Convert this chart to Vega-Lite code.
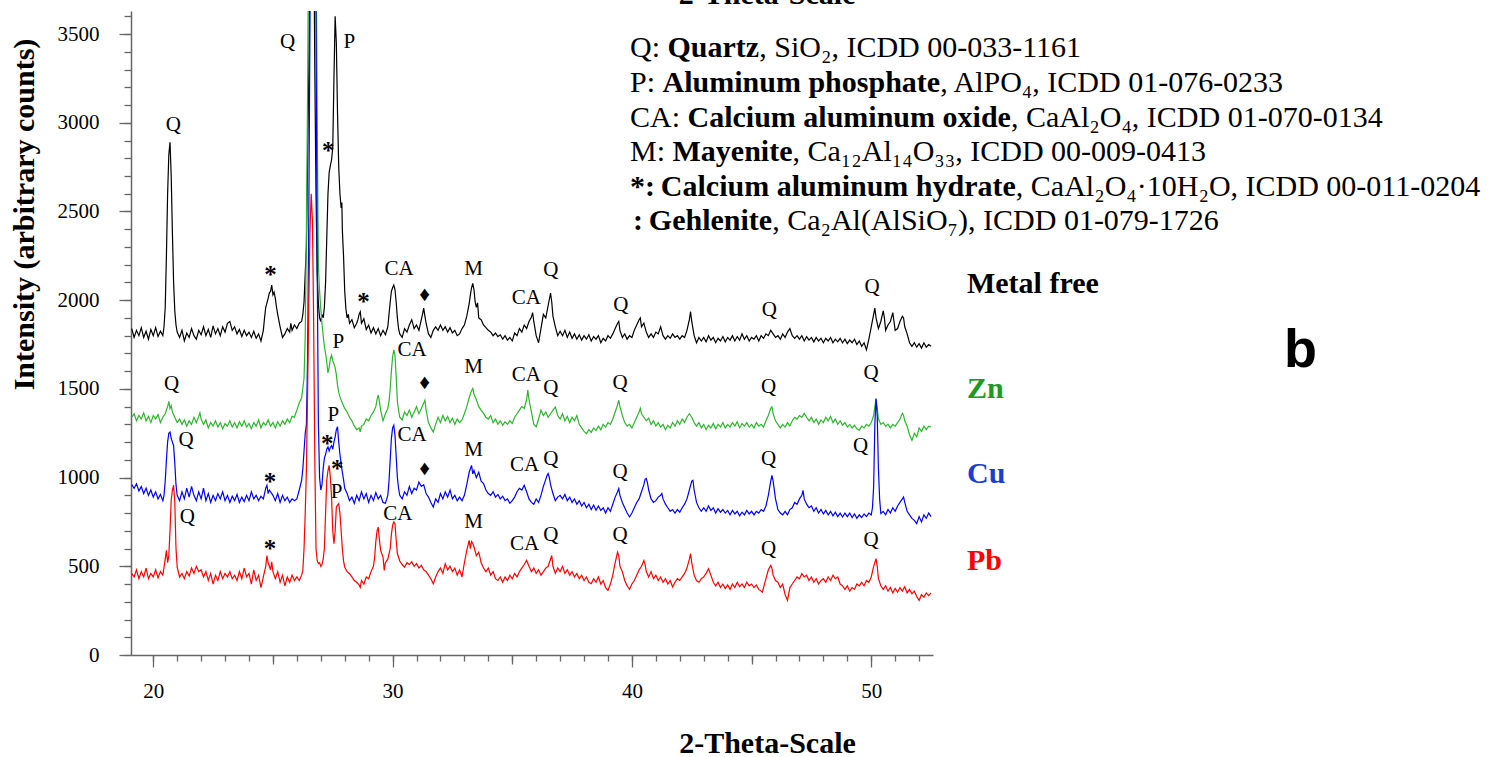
{
"$schema": "https://vega.github.io/schema/vega-lite/v6.json",
"width": 802, "height": 644,
"autosize": {"type": "none"},
"padding": {"left": 131, "top": 11, "right": 557, "bottom": 102},
"background": "white",
"config": {"view": {"stroke": null}, "axis": {"domainColor": "#666666", "tickColor": "#666666", "labelFont": "Liberation Serif", "titleFont": "Liberation Serif", "labelColor": "#000000", "titleColor": "#000000", "grid": false, "domainWidth": 1.5, "tickWidth": 1.3}},
"resolve": {"axis": {"x": "independent", "y": "independent"}},
"datasets": {
"mf": [{"x":19.1,"y":1840},{"x":19.2,"y":1790},{"x":19.3,"y":1830},{"x":19.4,"y":1800},{"x":19.5,"y":1845},{"x":19.6,"y":1790},{"x":19.7,"y":1825},{"x":19.8,"y":1780},{"x":19.9,"y":1835},{"x":20.0,"y":1800},{"x":20.1,"y":1845},{"x":20.2,"y":1795},{"x":20.3,"y":1825},{"x":20.4,"y":1800},{"x":20.45,"y":1850},{"x":20.5,"y":1960},{"x":20.55,"y":2250},{"x":20.6,"y":2600},{"x":20.65,"y":2820},{"x":20.7,"y":2890},{"x":20.75,"y":2700},{"x":20.8,"y":2380},{"x":20.85,"y":2100},{"x":20.9,"y":1940},{"x":20.95,"y":1860},{"x":21.0,"y":1820},{"x":21.1,"y":1790},{"x":21.2,"y":1830},{"x":21.3,"y":1770},{"x":21.4,"y":1815},{"x":21.5,"y":1790},{"x":21.6,"y":1840},{"x":21.7,"y":1800},{"x":21.8,"y":1780},{"x":21.9,"y":1830},{"x":22.0,"y":1805},{"x":22.1,"y":1850},{"x":22.2,"y":1800},{"x":22.3,"y":1835},{"x":22.4,"y":1790},{"x":22.5,"y":1855},{"x":22.6,"y":1810},{"x":22.7,"y":1840},{"x":22.8,"y":1800},{"x":22.9,"y":1850},{"x":23.0,"y":1820},{"x":23.1,"y":1870},{"x":23.2,"y":1880},{"x":23.3,"y":1830},{"x":23.4,"y":1850},{"x":23.5,"y":1810},{"x":23.6,"y":1835},{"x":23.7,"y":1795},{"x":23.8,"y":1830},{"x":23.9,"y":1800},{"x":24.0,"y":1820},{"x":24.1,"y":1790},{"x":24.2,"y":1825},{"x":24.3,"y":1785},{"x":24.4,"y":1810},{"x":24.5,"y":1770},{"x":24.6,"y":1830},{"x":24.65,"y":1900},{"x":24.7,"y":1960},{"x":24.8,"y":2010},{"x":24.85,"y":2040},{"x":24.9,"y":2050},{"x":24.95,"y":2085},{"x":25.0,"y":2030},{"x":25.05,"y":2045},{"x":25.1,"y":2010},{"x":25.15,"y":1960},{"x":25.2,"y":1920},{"x":25.3,"y":1850},{"x":25.4,"y":1790},{"x":25.5,"y":1810},{"x":25.6,"y":1840},{"x":25.7,"y":1820},{"x":25.75,"y":1870},{"x":25.8,"y":1830},{"x":25.9,"y":1860},{"x":26.0,"y":1840},{"x":26.1,"y":1870},{"x":26.2,"y":1880},{"x":26.25,"y":1920},{"x":26.3,"y":1990},{"x":26.35,"y":2150},{"x":26.4,"y":2300},{"x":26.45,"y":2800},{"x":26.5,"y":3300},{"x":26.55,"y":4000},{"x":26.6,"y":4500},{"x":26.65,"y":4600},{"x":26.7,"y":4200},{"x":26.75,"y":3300},{"x":26.8,"y":2600},{"x":26.85,"y":2150},{"x":26.9,"y":1980},{"x":26.95,"y":1900},{"x":27.0,"y":1880},{"x":27.05,"y":1920},{"x":27.1,"y":1900},{"x":27.15,"y":1960},{"x":27.2,"y":2100},{"x":27.25,"y":2350},{"x":27.3,"y":2600},{"x":27.35,"y":2720},{"x":27.4,"y":2760},{"x":27.45,"y":2790},{"x":27.5,"y":2860},{"x":27.55,"y":3250},{"x":27.6,"y":3600},{"x":27.65,"y":3450},{"x":27.7,"y":3050},{"x":27.75,"y":2750},{"x":27.8,"y":2600},{"x":27.85,"y":2520},{"x":27.88,"y":2550},{"x":27.9,"y":2400},{"x":27.95,"y":2250},{"x":28.0,"y":2050},{"x":28.05,"y":1950},{"x":28.1,"y":1900},{"x":28.15,"y":1920},{"x":28.2,"y":1870},{"x":28.3,"y":1890},{"x":28.4,"y":1845},{"x":28.5,"y":1870},{"x":28.55,"y":1890},{"x":28.6,"y":1920},{"x":28.65,"y":1935},{"x":28.7,"y":1870},{"x":28.8,"y":1895},{"x":28.9,"y":1835},{"x":29.0,"y":1860},{"x":29.1,"y":1815},{"x":29.2,"y":1845},{"x":29.3,"y":1810},{"x":29.4,"y":1840},{"x":29.5,"y":1800},{"x":29.6,"y":1830},{"x":29.7,"y":1805},{"x":29.8,"y":1850},{"x":29.85,"y":1920},{"x":29.9,"y":1990},{"x":29.95,"y":2050},{"x":30.0,"y":2070},{"x":30.05,"y":2085},{"x":30.1,"y":2060},{"x":30.15,"y":1990},{"x":30.2,"y":1900},{"x":30.25,"y":1840},{"x":30.3,"y":1810},{"x":30.4,"y":1790},{"x":30.5,"y":1840},{"x":30.6,"y":1820},{"x":30.7,"y":1860},{"x":30.8,"y":1890},{"x":30.9,"y":1840},{"x":31.0,"y":1860},{"x":31.1,"y":1830},{"x":31.2,"y":1890},{"x":31.25,"y":1920},{"x":31.3,"y":1955},{"x":31.35,"y":1910},{"x":31.4,"y":1870},{"x":31.5,"y":1810},{"x":31.6,"y":1790},{"x":31.7,"y":1830},{"x":31.8,"y":1850},{"x":31.9,"y":1830},{"x":32.0,"y":1860},{"x":32.1,"y":1830},{"x":32.2,"y":1850},{"x":32.3,"y":1820},{"x":32.4,"y":1845},{"x":32.5,"y":1815},{"x":32.6,"y":1830},{"x":32.7,"y":1800},{"x":32.8,"y":1810},{"x":32.9,"y":1840},{"x":33.0,"y":1860},{"x":33.1,"y":1910},{"x":33.2,"y":1980},{"x":33.25,"y":2030},{"x":33.3,"y":2070},{"x":33.35,"y":2095},{"x":33.4,"y":2060},{"x":33.45,"y":1990},{"x":33.5,"y":1960},{"x":33.55,"y":1985},{"x":33.6,"y":1900},{"x":33.7,"y":1890},{"x":33.8,"y":1860},{"x":33.9,"y":1845},{"x":34.0,"y":1830},{"x":34.1,"y":1820},{"x":34.2,"y":1800},{"x":34.3,"y":1815},{"x":34.4,"y":1795},{"x":34.5,"y":1805},{"x":34.6,"y":1780},{"x":34.7,"y":1800},{"x":34.8,"y":1775},{"x":34.9,"y":1790},{"x":35.0,"y":1770},{"x":35.1,"y":1815},{"x":35.2,"y":1800},{"x":35.3,"y":1840},{"x":35.4,"y":1820},{"x":35.5,"y":1860},{"x":35.6,"y":1840},{"x":35.7,"y":1880},{"x":35.8,"y":1905},{"x":35.85,"y":1930},{"x":35.9,"y":1880},{"x":36.0,"y":1800},{"x":36.1,"y":1760},{"x":36.2,"y":1840},{"x":36.3,"y":1920},{"x":36.4,"y":1900},{"x":36.5,"y":1970},{"x":36.6,"y":2040},{"x":36.65,"y":1990},{"x":36.7,"y":1910},{"x":36.8,"y":1850},{"x":36.9,"y":1800},{"x":37.0,"y":1825},{"x":37.1,"y":1800},{"x":37.2,"y":1830},{"x":37.3,"y":1790},{"x":37.4,"y":1820},{"x":37.5,"y":1785},{"x":37.6,"y":1810},{"x":37.7,"y":1780},{"x":37.8,"y":1805},{"x":37.9,"y":1775},{"x":38.0,"y":1800},{"x":38.1,"y":1780},{"x":38.2,"y":1805},{"x":38.3,"y":1770},{"x":38.4,"y":1795},{"x":38.5,"y":1780},{"x":38.6,"y":1800},{"x":38.7,"y":1760},{"x":38.8,"y":1785},{"x":38.9,"y":1770},{"x":39.0,"y":1800},{"x":39.1,"y":1785},{"x":39.2,"y":1810},{"x":39.3,"y":1840},{"x":39.4,"y":1870},{"x":39.45,"y":1880},{"x":39.5,"y":1830},{"x":39.6,"y":1790},{"x":39.7,"y":1810},{"x":39.8,"y":1780},{"x":39.9,"y":1800},{"x":40.0,"y":1790},{"x":40.1,"y":1830},{"x":40.2,"y":1860},{"x":40.3,"y":1890},{"x":40.35,"y":1900},{"x":40.4,"y":1850},{"x":40.5,"y":1870},{"x":40.6,"y":1820},{"x":40.7,"y":1790},{"x":40.8,"y":1810},{"x":40.9,"y":1790},{"x":41.0,"y":1820},{"x":41.1,"y":1810},{"x":41.2,"y":1850},{"x":41.3,"y":1800},{"x":41.4,"y":1780},{"x":41.5,"y":1800},{"x":41.6,"y":1785},{"x":41.7,"y":1810},{"x":41.8,"y":1790},{"x":41.9,"y":1800},{"x":42.0,"y":1780},{"x":42.1,"y":1800},{"x":42.2,"y":1790},{"x":42.3,"y":1830},{"x":42.4,"y":1890},{"x":42.45,"y":1935},{"x":42.5,"y":1880},{"x":42.6,"y":1800},{"x":42.7,"y":1760},{"x":42.8,"y":1790},{"x":42.9,"y":1770},{"x":43.0,"y":1790},{"x":43.1,"y":1765},{"x":43.2,"y":1800},{"x":43.3,"y":1775},{"x":43.4,"y":1790},{"x":43.5,"y":1760},{"x":43.6,"y":1785},{"x":43.7,"y":1770},{"x":43.8,"y":1795},{"x":43.9,"y":1765},{"x":44.0,"y":1790},{"x":44.1,"y":1775},{"x":44.2,"y":1800},{"x":44.3,"y":1770},{"x":44.4,"y":1795},{"x":44.5,"y":1775},{"x":44.6,"y":1810},{"x":44.7,"y":1780},{"x":44.8,"y":1800},{"x":44.9,"y":1770},{"x":45.0,"y":1790},{"x":45.1,"y":1780},{"x":45.2,"y":1800},{"x":45.3,"y":1770},{"x":45.4,"y":1800},{"x":45.5,"y":1785},{"x":45.6,"y":1810},{"x":45.7,"y":1800},{"x":45.8,"y":1830},{"x":45.9,"y":1810},{"x":46.0,"y":1790},{"x":46.1,"y":1800},{"x":46.2,"y":1780},{"x":46.3,"y":1810},{"x":46.4,"y":1790},{"x":46.5,"y":1820},{"x":46.6,"y":1840},{"x":46.7,"y":1800},{"x":46.8,"y":1785},{"x":46.9,"y":1800},{"x":47.0,"y":1780},{"x":47.1,"y":1800},{"x":47.2,"y":1770},{"x":47.3,"y":1795},{"x":47.4,"y":1775},{"x":47.5,"y":1790},{"x":47.6,"y":1765},{"x":47.7,"y":1790},{"x":47.8,"y":1770},{"x":47.9,"y":1785},{"x":48.0,"y":1760},{"x":48.1,"y":1785},{"x":48.2,"y":1770},{"x":48.3,"y":1790},{"x":48.4,"y":1760},{"x":48.5,"y":1780},{"x":48.6,"y":1765},{"x":48.7,"y":1785},{"x":48.8,"y":1760},{"x":48.9,"y":1780},{"x":49.0,"y":1755},{"x":49.1,"y":1775},{"x":49.2,"y":1760},{"x":49.3,"y":1780},{"x":49.4,"y":1750},{"x":49.5,"y":1770},{"x":49.6,"y":1740},{"x":49.7,"y":1760},{"x":49.8,"y":1720},{"x":49.9,"y":1780},{"x":50.0,"y":1850},{"x":50.1,"y":1920},{"x":50.15,"y":1955},{"x":50.2,"y":1900},{"x":50.3,"y":1840},{"x":50.4,"y":1880},{"x":50.5,"y":1940},{"x":50.55,"y":1900},{"x":50.6,"y":1830},{"x":50.7,"y":1860},{"x":50.8,"y":1880},{"x":50.9,"y":1930},{"x":50.95,"y":1880},{"x":51.0,"y":1830},{"x":51.1,"y":1840},{"x":51.2,"y":1880},{"x":51.3,"y":1910},{"x":51.35,"y":1900},{"x":51.4,"y":1850},{"x":51.5,"y":1810},{"x":51.6,"y":1760},{"x":51.7,"y":1740},{"x":51.8,"y":1760},{"x":51.9,"y":1735},{"x":52.0,"y":1755},{"x":52.1,"y":1730},{"x":52.2,"y":1760},{"x":52.3,"y":1735},{"x":52.4,"y":1750},{"x":52.5,"y":1740}],
"zn": [{"x":19.1,"y":1340},{"x":19.2,"y":1360},{"x":19.3,"y":1320},{"x":19.4,"y":1350},{"x":19.5,"y":1330},{"x":19.6,"y":1365},{"x":19.7,"y":1320},{"x":19.8,"y":1345},{"x":19.9,"y":1310},{"x":20.0,"y":1350},{"x":20.1,"y":1330},{"x":20.2,"y":1355},{"x":20.3,"y":1310},{"x":20.4,"y":1340},{"x":20.5,"y":1360},{"x":20.6,"y":1400},{"x":20.65,"y":1430},{"x":20.7,"y":1390},{"x":20.75,"y":1405},{"x":20.8,"y":1370},{"x":20.9,"y":1340},{"x":21.0,"y":1310},{"x":21.1,"y":1330},{"x":21.2,"y":1300},{"x":21.3,"y":1325},{"x":21.4,"y":1290},{"x":21.5,"y":1320},{"x":21.6,"y":1300},{"x":21.7,"y":1340},{"x":21.8,"y":1310},{"x":21.9,"y":1345},{"x":21.95,"y":1365},{"x":22.0,"y":1330},{"x":22.1,"y":1300},{"x":22.2,"y":1325},{"x":22.3,"y":1280},{"x":22.4,"y":1310},{"x":22.5,"y":1290},{"x":22.6,"y":1320},{"x":22.7,"y":1285},{"x":22.8,"y":1310},{"x":22.9,"y":1275},{"x":23.0,"y":1305},{"x":23.1,"y":1290},{"x":23.2,"y":1320},{"x":23.3,"y":1285},{"x":23.4,"y":1310},{"x":23.5,"y":1280},{"x":23.6,"y":1315},{"x":23.7,"y":1290},{"x":23.8,"y":1320},{"x":23.9,"y":1285},{"x":24.0,"y":1305},{"x":24.1,"y":1275},{"x":24.2,"y":1310},{"x":24.3,"y":1290},{"x":24.4,"y":1325},{"x":24.5,"y":1280},{"x":24.6,"y":1310},{"x":24.7,"y":1295},{"x":24.8,"y":1325},{"x":24.9,"y":1290},{"x":25.0,"y":1310},{"x":25.1,"y":1280},{"x":25.2,"y":1315},{"x":25.3,"y":1290},{"x":25.4,"y":1320},{"x":25.5,"y":1300},{"x":25.6,"y":1330},{"x":25.7,"y":1310},{"x":25.8,"y":1345},{"x":25.9,"y":1340},{"x":26.0,"y":1380},{"x":26.1,"y":1420},{"x":26.2,"y":1450},{"x":26.3,"y":1560},{"x":26.35,"y":1800},{"x":26.4,"y":2400},{"x":26.45,"y":3200},{"x":26.5,"y":4200},{"x":26.55,"y":5000},{"x":26.6,"y":5000},{"x":26.65,"y":5000},{"x":26.7,"y":5000},{"x":26.75,"y":4600},{"x":26.8,"y":4000},{"x":26.85,"y":3000},{"x":26.9,"y":2190},{"x":26.95,"y":2050},{"x":27.0,"y":1950},{"x":27.05,"y":1870},{"x":27.1,"y":1800},{"x":27.15,"y":1740},{"x":27.2,"y":1700},{"x":27.25,"y":1650},{"x":27.3,"y":1590},{"x":27.35,"y":1620},{"x":27.4,"y":1670},{"x":27.45,"y":1690},{"x":27.5,"y":1660},{"x":27.55,"y":1640},{"x":27.6,"y":1620},{"x":27.65,"y":1580},{"x":27.7,"y":1520},{"x":27.75,"y":1480},{"x":27.8,"y":1455},{"x":27.9,"y":1420},{"x":28.0,"y":1390},{"x":28.1,"y":1370},{"x":28.2,"y":1340},{"x":28.3,"y":1320},{"x":28.4,"y":1290},{"x":28.5,"y":1270},{"x":28.6,"y":1280},{"x":28.65,"y":1257},{"x":28.7,"y":1290},{"x":28.8,"y":1300},{"x":28.9,"y":1330},{"x":29.0,"y":1320},{"x":29.1,"y":1350},{"x":29.2,"y":1370},{"x":29.3,"y":1400},{"x":29.35,"y":1440},{"x":29.4,"y":1465},{"x":29.45,"y":1430},{"x":29.5,"y":1380},{"x":29.6,"y":1320},{"x":29.7,"y":1360},{"x":29.8,"y":1390},{"x":29.85,"y":1430},{"x":29.9,"y":1500},{"x":29.95,"y":1600},{"x":30.0,"y":1680},{"x":30.05,"y":1720},{"x":30.1,"y":1690},{"x":30.15,"y":1570},{"x":30.2,"y":1430},{"x":30.25,"y":1380},{"x":30.3,"y":1340},{"x":30.4,"y":1325},{"x":30.5,"y":1370},{"x":30.6,"y":1350},{"x":30.7,"y":1380},{"x":30.8,"y":1340},{"x":30.9,"y":1370},{"x":31.0,"y":1400},{"x":31.1,"y":1360},{"x":31.2,"y":1390},{"x":31.3,"y":1420},{"x":31.35,"y":1436},{"x":31.4,"y":1380},{"x":31.5,"y":1310},{"x":31.6,"y":1280},{"x":31.7,"y":1257},{"x":31.8,"y":1300},{"x":31.9,"y":1340},{"x":32.0,"y":1310},{"x":32.1,"y":1350},{"x":32.2,"y":1320},{"x":32.3,"y":1345},{"x":32.4,"y":1310},{"x":32.5,"y":1335},{"x":32.6,"y":1300},{"x":32.7,"y":1330},{"x":32.8,"y":1310},{"x":32.9,"y":1325},{"x":33.0,"y":1360},{"x":33.1,"y":1400},{"x":33.2,"y":1450},{"x":33.3,"y":1490},{"x":33.35,"y":1502},{"x":33.4,"y":1470},{"x":33.5,"y":1440},{"x":33.6,"y":1400},{"x":33.7,"y":1380},{"x":33.8,"y":1362},{"x":33.9,"y":1340},{"x":34.0,"y":1330},{"x":34.1,"y":1350},{"x":34.2,"y":1310},{"x":34.3,"y":1330},{"x":34.4,"y":1300},{"x":34.5,"y":1320},{"x":34.6,"y":1295},{"x":34.7,"y":1315},{"x":34.8,"y":1300},{"x":34.9,"y":1320},{"x":35.0,"y":1305},{"x":35.1,"y":1340},{"x":35.2,"y":1360},{"x":35.3,"y":1380},{"x":35.4,"y":1400},{"x":35.5,"y":1390},{"x":35.6,"y":1440},{"x":35.65,"y":1493},{"x":35.7,"y":1440},{"x":35.8,"y":1370},{"x":35.9,"y":1300},{"x":36.0,"y":1286},{"x":36.1,"y":1330},{"x":36.2,"y":1380},{"x":36.3,"y":1350},{"x":36.4,"y":1370},{"x":36.5,"y":1340},{"x":36.6,"y":1360},{"x":36.7,"y":1380},{"x":36.8,"y":1398},{"x":36.9,"y":1350},{"x":37.0,"y":1330},{"x":37.1,"y":1360},{"x":37.2,"y":1320},{"x":37.3,"y":1345},{"x":37.4,"y":1310},{"x":37.5,"y":1340},{"x":37.6,"y":1320},{"x":37.7,"y":1350},{"x":37.8,"y":1300},{"x":37.9,"y":1280},{"x":38.0,"y":1260},{"x":38.1,"y":1248},{"x":38.2,"y":1270},{"x":38.3,"y":1255},{"x":38.4,"y":1280},{"x":38.5,"y":1265},{"x":38.6,"y":1290},{"x":38.7,"y":1270},{"x":38.8,"y":1300},{"x":38.9,"y":1285},{"x":39.0,"y":1310},{"x":39.1,"y":1300},{"x":39.2,"y":1330},{"x":39.3,"y":1370},{"x":39.4,"y":1410},{"x":39.45,"y":1436},{"x":39.5,"y":1400},{"x":39.6,"y":1350},{"x":39.7,"y":1310},{"x":39.8,"y":1290},{"x":39.9,"y":1300},{"x":40.0,"y":1280},{"x":40.1,"y":1310},{"x":40.2,"y":1340},{"x":40.3,"y":1370},{"x":40.35,"y":1391},{"x":40.4,"y":1360},{"x":40.5,"y":1340},{"x":40.6,"y":1320},{"x":40.7,"y":1335},{"x":40.8,"y":1300},{"x":40.9,"y":1320},{"x":41.0,"y":1290},{"x":41.1,"y":1310},{"x":41.2,"y":1285},{"x":41.3,"y":1300},{"x":41.4,"y":1270},{"x":41.5,"y":1295},{"x":41.6,"y":1280},{"x":41.7,"y":1310},{"x":41.8,"y":1290},{"x":41.9,"y":1320},{"x":42.0,"y":1300},{"x":42.1,"y":1330},{"x":42.2,"y":1310},{"x":42.3,"y":1340},{"x":42.4,"y":1360},{"x":42.5,"y":1340},{"x":42.6,"y":1310},{"x":42.7,"y":1290},{"x":42.8,"y":1310},{"x":42.9,"y":1280},{"x":43.0,"y":1300},{"x":43.1,"y":1270},{"x":43.2,"y":1295},{"x":43.3,"y":1280},{"x":43.4,"y":1305},{"x":43.5,"y":1275},{"x":43.6,"y":1300},{"x":43.7,"y":1285},{"x":43.8,"y":1310},{"x":43.9,"y":1280},{"x":44.0,"y":1300},{"x":44.1,"y":1285},{"x":44.2,"y":1310},{"x":44.3,"y":1290},{"x":44.4,"y":1315},{"x":44.5,"y":1280},{"x":44.6,"y":1305},{"x":44.7,"y":1290},{"x":44.8,"y":1310},{"x":44.9,"y":1285},{"x":45.0,"y":1300},{"x":45.1,"y":1280},{"x":45.2,"y":1310},{"x":45.3,"y":1290},{"x":45.4,"y":1300},{"x":45.5,"y":1285},{"x":45.6,"y":1320},{"x":45.7,"y":1350},{"x":45.8,"y":1390},{"x":45.85,"y":1398},{"x":45.9,"y":1360},{"x":46.0,"y":1320},{"x":46.1,"y":1300},{"x":46.2,"y":1280},{"x":46.3,"y":1300},{"x":46.4,"y":1285},{"x":46.5,"y":1310},{"x":46.6,"y":1290},{"x":46.7,"y":1320},{"x":46.8,"y":1340},{"x":46.9,"y":1330},{"x":47.0,"y":1350},{"x":47.1,"y":1340},{"x":47.2,"y":1362},{"x":47.3,"y":1340},{"x":47.4,"y":1320},{"x":47.5,"y":1340},{"x":47.6,"y":1310},{"x":47.7,"y":1330},{"x":47.8,"y":1300},{"x":47.9,"y":1325},{"x":48.0,"y":1310},{"x":48.1,"y":1340},{"x":48.2,"y":1320},{"x":48.3,"y":1345},{"x":48.4,"y":1310},{"x":48.5,"y":1330},{"x":48.6,"y":1300},{"x":48.7,"y":1320},{"x":48.8,"y":1295},{"x":48.9,"y":1310},{"x":49.0,"y":1285},{"x":49.1,"y":1300},{"x":49.2,"y":1280},{"x":49.3,"y":1295},{"x":49.4,"y":1275},{"x":49.5,"y":1267},{"x":49.6,"y":1290},{"x":49.7,"y":1280},{"x":49.8,"y":1300},{"x":49.9,"y":1290},{"x":50.0,"y":1310},{"x":50.1,"y":1350},{"x":50.15,"y":1400},{"x":50.2,"y":1442},{"x":50.25,"y":1390},{"x":50.3,"y":1330},{"x":50.4,"y":1300},{"x":50.5,"y":1310},{"x":50.6,"y":1290},{"x":50.7,"y":1300},{"x":50.8,"y":1280},{"x":50.9,"y":1300},{"x":51.0,"y":1290},{"x":51.1,"y":1310},{"x":51.2,"y":1330},{"x":51.3,"y":1362},{"x":51.35,"y":1350},{"x":51.4,"y":1320},{"x":51.5,"y":1290},{"x":51.6,"y":1240},{"x":51.7,"y":1210},{"x":51.8,"y":1250},{"x":51.9,"y":1230},{"x":52.0,"y":1280},{"x":52.1,"y":1260},{"x":52.2,"y":1290},{"x":52.3,"y":1270},{"x":52.4,"y":1290},{"x":52.5,"y":1285}],
"cu": [{"x":19.1,"y":960},{"x":19.2,"y":940},{"x":19.3,"y":965},{"x":19.4,"y":925},{"x":19.5,"y":950},{"x":19.6,"y":910},{"x":19.7,"y":940},{"x":19.8,"y":900},{"x":19.9,"y":930},{"x":20.0,"y":890},{"x":20.1,"y":920},{"x":20.2,"y":880},{"x":20.3,"y":905},{"x":20.4,"y":870},{"x":20.45,"y":900},{"x":20.5,"y":980},{"x":20.55,"y":1100},{"x":20.6,"y":1200},{"x":20.65,"y":1250},{"x":20.7,"y":1257},{"x":20.75,"y":1220},{"x":20.8,"y":1200},{"x":20.85,"y":1180},{"x":20.9,"y":1080},{"x":20.95,"y":960},{"x":21.0,"y":900},{"x":21.1,"y":870},{"x":21.2,"y":920},{"x":21.3,"y":880},{"x":21.4,"y":940},{"x":21.5,"y":890},{"x":21.6,"y":950},{"x":21.7,"y":900},{"x":21.8,"y":870},{"x":21.9,"y":920},{"x":22.0,"y":880},{"x":22.1,"y":940},{"x":22.2,"y":870},{"x":22.3,"y":910},{"x":22.4,"y":860},{"x":22.5,"y":900},{"x":22.6,"y":870},{"x":22.7,"y":910},{"x":22.8,"y":880},{"x":22.9,"y":920},{"x":23.0,"y":870},{"x":23.1,"y":900},{"x":23.2,"y":860},{"x":23.3,"y":895},{"x":23.4,"y":870},{"x":23.5,"y":905},{"x":23.6,"y":860},{"x":23.7,"y":890},{"x":23.8,"y":865},{"x":23.9,"y":900},{"x":24.0,"y":870},{"x":24.1,"y":920},{"x":24.2,"y":880},{"x":24.3,"y":900},{"x":24.4,"y":870},{"x":24.5,"y":895},{"x":24.6,"y":880},{"x":24.7,"y":940},{"x":24.75,"y":957},{"x":24.8,"y":910},{"x":24.85,"y":930},{"x":24.9,"y":920},{"x":25.0,"y":900},{"x":25.1,"y":870},{"x":25.2,"y":910},{"x":25.3,"y":860},{"x":25.4,"y":900},{"x":25.5,"y":870},{"x":25.6,"y":890},{"x":25.7,"y":860},{"x":25.8,"y":880},{"x":25.9,"y":870},{"x":26.0,"y":880},{"x":26.1,"y":930},{"x":26.2,"y":985},{"x":26.25,"y":1050},{"x":26.3,"y":1150},{"x":26.35,"y":1250},{"x":26.4,"y":1300},{"x":26.45,"y":1700},{"x":26.5,"y":2500},{"x":26.55,"y":3600},{"x":26.6,"y":4500},{"x":26.65,"y":5000},{"x":26.7,"y":5000},{"x":26.75,"y":4600},{"x":26.8,"y":3600},{"x":26.85,"y":2200},{"x":26.9,"y":1300},{"x":26.95,"y":1000},{"x":27.0,"y":930},{"x":27.05,"y":960},{"x":27.1,"y":1050},{"x":27.15,"y":1110},{"x":27.2,"y":1130},{"x":27.25,"y":1160},{"x":27.3,"y":1173},{"x":27.35,"y":1150},{"x":27.4,"y":1170},{"x":27.45,"y":1180},{"x":27.5,"y":1160},{"x":27.55,"y":1200},{"x":27.6,"y":1230},{"x":27.65,"y":1270},{"x":27.7,"y":1286},{"x":27.75,"y":1200},{"x":27.8,"y":1130},{"x":27.85,"y":1080},{"x":27.9,"y":1030},{"x":27.95,"y":990},{"x":28.0,"y":940},{"x":28.1,"y":910},{"x":28.2,"y":870},{"x":28.3,"y":890},{"x":28.4,"y":855},{"x":28.5,"y":900},{"x":28.6,"y":870},{"x":28.7,"y":920},{"x":28.8,"y":880},{"x":28.9,"y":910},{"x":29.0,"y":860},{"x":29.1,"y":900},{"x":29.2,"y":870},{"x":29.3,"y":915},{"x":29.4,"y":880},{"x":29.5,"y":900},{"x":29.6,"y":860},{"x":29.7,"y":855},{"x":29.8,"y":900},{"x":29.85,"y":980},{"x":29.9,"y":1100},{"x":29.95,"y":1220},{"x":30.0,"y":1280},{"x":30.05,"y":1295},{"x":30.1,"y":1240},{"x":30.15,"y":1120},{"x":30.2,"y":1000},{"x":30.25,"y":940},{"x":30.3,"y":900},{"x":30.4,"y":880},{"x":30.5,"y":920},{"x":30.6,"y":900},{"x":30.7,"y":950},{"x":30.8,"y":910},{"x":30.9,"y":940},{"x":31.0,"y":930},{"x":31.1,"y":975},{"x":31.2,"y":950},{"x":31.3,"y":960},{"x":31.4,"y":910},{"x":31.5,"y":890},{"x":31.6,"y":860},{"x":31.7,"y":834},{"x":31.8,"y":880},{"x":31.9,"y":860},{"x":32.0,"y":910},{"x":32.1,"y":880},{"x":32.2,"y":920},{"x":32.3,"y":890},{"x":32.4,"y":930},{"x":32.5,"y":880},{"x":32.6,"y":900},{"x":32.7,"y":870},{"x":32.8,"y":890},{"x":32.9,"y":870},{"x":33.0,"y":900},{"x":33.1,"y":960},{"x":33.2,"y":1030},{"x":33.25,"y":1050},{"x":33.3,"y":1069},{"x":33.35,"y":1020},{"x":33.4,"y":1040},{"x":33.5,"y":1000},{"x":33.6,"y":1030},{"x":33.7,"y":980},{"x":33.8,"y":966},{"x":33.9,"y":930},{"x":34.0,"y":910},{"x":34.1,"y":900},{"x":34.2,"y":920},{"x":34.3,"y":890},{"x":34.4,"y":905},{"x":34.5,"y":880},{"x":34.6,"y":895},{"x":34.7,"y":870},{"x":34.8,"y":880},{"x":34.9,"y":855},{"x":35.0,"y":870},{"x":35.1,"y":890},{"x":35.2,"y":920},{"x":35.3,"y":940},{"x":35.4,"y":930},{"x":35.5,"y":957},{"x":35.6,"y":920},{"x":35.7,"y":880},{"x":35.8,"y":860},{"x":35.9,"y":850},{"x":36.0,"y":880},{"x":36.1,"y":860},{"x":36.2,"y":900},{"x":36.3,"y":950},{"x":36.4,"y":990},{"x":36.45,"y":1010},{"x":36.5,"y":1023},{"x":36.55,"y":1000},{"x":36.6,"y":960},{"x":36.7,"y":910},{"x":36.8,"y":870},{"x":36.9,"y":890},{"x":37.0,"y":900},{"x":37.1,"y":880},{"x":37.2,"y":905},{"x":37.3,"y":870},{"x":37.4,"y":890},{"x":37.5,"y":860},{"x":37.6,"y":880},{"x":37.7,"y":850},{"x":37.8,"y":870},{"x":37.9,"y":840},{"x":38.0,"y":860},{"x":38.1,"y":830},{"x":38.2,"y":850},{"x":38.3,"y":820},{"x":38.4,"y":845},{"x":38.5,"y":816},{"x":38.6,"y":840},{"x":38.7,"y":815},{"x":38.8,"y":830},{"x":38.9,"y":800},{"x":39.0,"y":830},{"x":39.1,"y":810},{"x":39.2,"y":850},{"x":39.3,"y":890},{"x":39.4,"y":920},{"x":39.45,"y":938},{"x":39.5,"y":900},{"x":39.6,"y":860},{"x":39.7,"y":830},{"x":39.8,"y":800},{"x":39.9,"y":778},{"x":40.0,"y":800},{"x":40.1,"y":830},{"x":40.2,"y":860},{"x":40.3,"y":880},{"x":40.4,"y":920},{"x":40.5,"y":960},{"x":40.55,"y":990},{"x":40.6,"y":995},{"x":40.65,"y":970},{"x":40.7,"y":930},{"x":40.8,"y":880},{"x":40.9,"y":860},{"x":41.0,"y":870},{"x":41.1,"y":890},{"x":41.2,"y":900},{"x":41.25,"y":910},{"x":41.3,"y":880},{"x":41.4,"y":850},{"x":41.5,"y":830},{"x":41.6,"y":810},{"x":41.7,"y":820},{"x":41.8,"y":800},{"x":41.9,"y":820},{"x":42.0,"y":805},{"x":42.1,"y":830},{"x":42.2,"y":850},{"x":42.3,"y":880},{"x":42.4,"y":930},{"x":42.5,"y":980},{"x":42.55,"y":985},{"x":42.6,"y":930},{"x":42.7,"y":860},{"x":42.8,"y":830},{"x":42.9,"y":810},{"x":43.0,"y":830},{"x":43.1,"y":810},{"x":43.2,"y":840},{"x":43.3,"y":815},{"x":43.4,"y":830},{"x":43.5,"y":800},{"x":43.6,"y":825},{"x":43.7,"y":805},{"x":43.8,"y":820},{"x":43.9,"y":800},{"x":44.0,"y":815},{"x":44.1,"y":790},{"x":44.2,"y":815},{"x":44.3,"y":795},{"x":44.4,"y":810},{"x":44.5,"y":785},{"x":44.6,"y":805},{"x":44.7,"y":790},{"x":44.8,"y":815},{"x":44.9,"y":795},{"x":45.0,"y":810},{"x":45.1,"y":790},{"x":45.2,"y":810},{"x":45.3,"y":800},{"x":45.4,"y":820},{"x":45.5,"y":810},{"x":45.6,"y":840},{"x":45.7,"y":900},{"x":45.8,"y":980},{"x":45.85,"y":1013},{"x":45.9,"y":980},{"x":46.0,"y":880},{"x":46.1,"y":820},{"x":46.2,"y":800},{"x":46.3,"y":790},{"x":46.4,"y":810},{"x":46.5,"y":790},{"x":46.6,"y":820},{"x":46.7,"y":830},{"x":46.8,"y":860},{"x":46.9,"y":850},{"x":47.0,"y":880},{"x":47.1,"y":900},{"x":47.15,"y":928},{"x":47.2,"y":880},{"x":47.3,"y":850},{"x":47.4,"y":830},{"x":47.5,"y":840},{"x":47.6,"y":810},{"x":47.7,"y":830},{"x":47.8,"y":800},{"x":47.9,"y":820},{"x":48.0,"y":795},{"x":48.1,"y":815},{"x":48.2,"y":790},{"x":48.3,"y":810},{"x":48.4,"y":785},{"x":48.5,"y":805},{"x":48.6,"y":780},{"x":48.7,"y":800},{"x":48.8,"y":778},{"x":48.9,"y":800},{"x":49.0,"y":780},{"x":49.1,"y":800},{"x":49.2,"y":775},{"x":49.3,"y":795},{"x":49.4,"y":770},{"x":49.5,"y":790},{"x":49.6,"y":775},{"x":49.7,"y":795},{"x":49.8,"y":780},{"x":49.9,"y":800},{"x":50.0,"y":790},{"x":50.05,"y":830},{"x":50.1,"y":950},{"x":50.15,"y":1300},{"x":50.2,"y":1446},{"x":50.25,"y":1350},{"x":50.3,"y":1050},{"x":50.35,"y":880},{"x":50.4,"y":798},{"x":50.5,"y":810},{"x":50.6,"y":790},{"x":50.7,"y":820},{"x":50.8,"y":800},{"x":50.9,"y":830},{"x":51.0,"y":810},{"x":51.1,"y":840},{"x":51.2,"y":860},{"x":51.3,"y":880},{"x":51.35,"y":890},{"x":51.4,"y":860},{"x":51.5,"y":810},{"x":51.6,"y":790},{"x":51.7,"y":770},{"x":51.8,"y":759},{"x":51.9,"y":740},{"x":52.0,"y":780},{"x":52.1,"y":750},{"x":52.2,"y":790},{"x":52.3,"y":770},{"x":52.4,"y":800},{"x":52.5,"y":780}],
"pb": [{"x":19.1,"y":460},{"x":19.2,"y":440},{"x":19.3,"y":480},{"x":19.4,"y":430},{"x":19.5,"y":470},{"x":19.6,"y":440},{"x":19.7,"y":490},{"x":19.8,"y":430},{"x":19.9,"y":460},{"x":20.0,"y":440},{"x":20.1,"y":480},{"x":20.2,"y":435},{"x":20.3,"y":470},{"x":20.4,"y":450},{"x":20.5,"y":540},{"x":20.55,"y":590},{"x":20.6,"y":520},{"x":20.65,"y":560},{"x":20.7,"y":700},{"x":20.75,"y":872},{"x":20.8,"y":930},{"x":20.85,"y":957},{"x":20.9,"y":860},{"x":20.95,"y":600},{"x":21.0,"y":495},{"x":21.1,"y":440},{"x":21.2,"y":460},{"x":21.3,"y":430},{"x":21.4,"y":470},{"x":21.5,"y":445},{"x":21.6,"y":490},{"x":21.7,"y":460},{"x":21.8,"y":500},{"x":21.9,"y":470},{"x":22.0,"y":480},{"x":22.1,"y":440},{"x":22.2,"y":470},{"x":22.3,"y":420},{"x":22.4,"y":460},{"x":22.5,"y":400},{"x":22.6,"y":450},{"x":22.7,"y":420},{"x":22.8,"y":470},{"x":22.9,"y":430},{"x":23.0,"y":460},{"x":23.1,"y":440},{"x":23.2,"y":470},{"x":23.3,"y":430},{"x":23.4,"y":450},{"x":23.5,"y":420},{"x":23.6,"y":470},{"x":23.7,"y":430},{"x":23.8,"y":490},{"x":23.9,"y":440},{"x":24.0,"y":460},{"x":24.1,"y":400},{"x":24.2,"y":480},{"x":24.3,"y":420},{"x":24.4,"y":450},{"x":24.5,"y":380},{"x":24.6,"y":440},{"x":24.7,"y":500},{"x":24.75,"y":561},{"x":24.8,"y":520},{"x":24.85,"y":500},{"x":24.9,"y":480},{"x":24.95,"y":525},{"x":25.0,"y":470},{"x":25.1,"y":430},{"x":25.2,"y":470},{"x":25.3,"y":410},{"x":25.4,"y":450},{"x":25.5,"y":390},{"x":25.6,"y":440},{"x":25.7,"y":410},{"x":25.8,"y":450},{"x":25.9,"y":420},{"x":26.0,"y":440},{"x":26.1,"y":420},{"x":26.2,"y":450},{"x":26.25,"y":477},{"x":26.3,"y":600},{"x":26.35,"y":800},{"x":26.4,"y":1050},{"x":26.45,"y":1500},{"x":26.5,"y":2000},{"x":26.55,"y":2400},{"x":26.6,"y":2600},{"x":26.65,"y":2450},{"x":26.7,"y":1900},{"x":26.75,"y":1100},{"x":26.8,"y":600},{"x":26.85,"y":533},{"x":26.9,"y":515},{"x":26.95,"y":520},{"x":27.0,"y":500},{"x":27.05,"y":510},{"x":27.1,"y":540},{"x":27.15,"y":600},{"x":27.2,"y":800},{"x":27.25,"y":985},{"x":27.3,"y":1040},{"x":27.35,"y":1069},{"x":27.4,"y":1000},{"x":27.45,"y":890},{"x":27.5,"y":700},{"x":27.55,"y":627},{"x":27.6,"y":700},{"x":27.65,"y":834},{"x":27.7,"y":845},{"x":27.75,"y":853},{"x":27.8,"y":800},{"x":27.85,"y":700},{"x":27.9,"y":600},{"x":27.95,"y":530},{"x":28.0,"y":495},{"x":28.1,"y":470},{"x":28.2,"y":458},{"x":28.3,"y":440},{"x":28.4,"y":420},{"x":28.5,"y":410},{"x":28.6,"y":395},{"x":28.65,"y":381},{"x":28.7,"y":420},{"x":28.8,"y":400},{"x":28.9,"y":440},{"x":29.0,"y":430},{"x":29.1,"y":470},{"x":29.2,"y":500},{"x":29.25,"y":550},{"x":29.3,"y":640},{"x":29.35,"y":700},{"x":29.4,"y":721},{"x":29.45,"y":650},{"x":29.5,"y":590},{"x":29.6,"y":552},{"x":29.65,"y":477},{"x":29.7,"y":520},{"x":29.8,"y":540},{"x":29.9,"y":600},{"x":29.95,"y":680},{"x":30.0,"y":730},{"x":30.05,"y":750},{"x":30.1,"y":740},{"x":30.15,"y":650},{"x":30.2,"y":572},{"x":30.3,"y":530},{"x":30.4,"y":510},{"x":30.5,"y":495},{"x":30.6,"y":520},{"x":30.7,"y":510},{"x":30.8,"y":525},{"x":30.9,"y":500},{"x":31.0,"y":515},{"x":31.1,"y":490},{"x":31.2,"y":505},{"x":31.3,"y":480},{"x":31.4,"y":470},{"x":31.5,"y":450},{"x":31.6,"y":430},{"x":31.7,"y":402},{"x":31.8,"y":440},{"x":31.9,"y":470},{"x":32.0,"y":490},{"x":32.1,"y":460},{"x":32.2,"y":515},{"x":32.3,"y":480},{"x":32.4,"y":500},{"x":32.5,"y":470},{"x":32.6,"y":490},{"x":32.7,"y":450},{"x":32.8,"y":480},{"x":32.9,"y":440},{"x":33.0,"y":520},{"x":33.1,"y":590},{"x":33.2,"y":646},{"x":33.25,"y":600},{"x":33.3,"y":640},{"x":33.35,"y":630},{"x":33.4,"y":610},{"x":33.5,"y":560},{"x":33.6,"y":580},{"x":33.65,"y":552},{"x":33.7,"y":520},{"x":33.8,"y":490},{"x":33.9,"y":470},{"x":34.0,"y":490},{"x":34.1,"y":450},{"x":34.2,"y":470},{"x":34.3,"y":430},{"x":34.4,"y":420},{"x":34.5,"y":440},{"x":34.6,"y":410},{"x":34.7,"y":440},{"x":34.8,"y":420},{"x":34.9,"y":450},{"x":35.0,"y":430},{"x":35.1,"y":460},{"x":35.2,"y":440},{"x":35.3,"y":470},{"x":35.4,"y":490},{"x":35.5,"y":510},{"x":35.6,"y":533},{"x":35.7,"y":500},{"x":35.8,"y":470},{"x":35.9,"y":490},{"x":36.0,"y":460},{"x":36.1,"y":480},{"x":36.2,"y":450},{"x":36.3,"y":470},{"x":36.4,"y":490},{"x":36.5,"y":500},{"x":36.6,"y":540},{"x":36.65,"y":561},{"x":36.7,"y":500},{"x":36.8,"y":460},{"x":36.9,"y":490},{"x":37.0,"y":470},{"x":37.1,"y":500},{"x":37.2,"y":460},{"x":37.3,"y":480},{"x":37.4,"y":450},{"x":37.5,"y":470},{"x":37.6,"y":440},{"x":37.7,"y":460},{"x":37.8,"y":430},{"x":37.9,"y":450},{"x":38.0,"y":420},{"x":38.1,"y":440},{"x":38.2,"y":410},{"x":38.3,"y":402},{"x":38.4,"y":430},{"x":38.5,"y":410},{"x":38.6,"y":440},{"x":38.7,"y":400},{"x":38.8,"y":420},{"x":38.9,"y":380},{"x":39.0,"y":364},{"x":39.1,"y":400},{"x":39.2,"y":450},{"x":39.3,"y":520},{"x":39.4,"y":580},{"x":39.45,"y":560},{"x":39.5,"y":500},{"x":39.6,"y":470},{"x":39.7,"y":420},{"x":39.8,"y":390},{"x":39.9,"y":370},{"x":40.0,"y":400},{"x":40.1,"y":420},{"x":40.2,"y":450},{"x":40.3,"y":480},{"x":40.4,"y":500},{"x":40.5,"y":533},{"x":40.55,"y":510},{"x":40.6,"y":470},{"x":40.7,"y":440},{"x":40.8,"y":470},{"x":40.9,"y":430},{"x":41.0,"y":450},{"x":41.1,"y":420},{"x":41.2,"y":440},{"x":41.3,"y":410},{"x":41.4,"y":430},{"x":41.5,"y":400},{"x":41.6,"y":420},{"x":41.7,"y":383},{"x":41.8,"y":410},{"x":41.9,"y":430},{"x":42.0,"y":420},{"x":42.1,"y":440},{"x":42.2,"y":460},{"x":42.3,"y":490},{"x":42.4,"y":540},{"x":42.45,"y":571},{"x":42.5,"y":520},{"x":42.6,"y":450},{"x":42.7,"y":420},{"x":42.8,"y":410},{"x":42.9,"y":430},{"x":43.0,"y":440},{"x":43.1,"y":460},{"x":43.2,"y":486},{"x":43.3,"y":450},{"x":43.4,"y":410},{"x":43.5,"y":390},{"x":43.6,"y":410},{"x":43.7,"y":380},{"x":43.8,"y":400},{"x":43.9,"y":375},{"x":44.0,"y":395},{"x":44.1,"y":370},{"x":44.2,"y":400},{"x":44.3,"y":380},{"x":44.4,"y":410},{"x":44.5,"y":385},{"x":44.6,"y":400},{"x":44.7,"y":380},{"x":44.8,"y":410},{"x":44.9,"y":390},{"x":45.0,"y":400},{"x":45.1,"y":380},{"x":45.2,"y":395},{"x":45.3,"y":370},{"x":45.4,"y":360},{"x":45.45,"y":354},{"x":45.5,"y":380},{"x":45.6,"y":430},{"x":45.7,"y":480},{"x":45.8,"y":505},{"x":45.85,"y":490},{"x":45.9,"y":450},{"x":46.0,"y":420},{"x":46.1,"y":410},{"x":46.2,"y":380},{"x":46.3,"y":400},{"x":46.4,"y":340},{"x":46.5,"y":308},{"x":46.6,"y":380},{"x":46.7,"y":400},{"x":46.8,"y":420},{"x":46.9,"y":440},{"x":47.0,"y":430},{"x":47.1,"y":458},{"x":47.2,"y":440},{"x":47.3,"y":450},{"x":47.4,"y":420},{"x":47.5,"y":440},{"x":47.6,"y":410},{"x":47.7,"y":430},{"x":47.8,"y":400},{"x":47.9,"y":420},{"x":48.0,"y":430},{"x":48.1,"y":410},{"x":48.2,"y":440},{"x":48.3,"y":420},{"x":48.4,"y":450},{"x":48.5,"y":430},{"x":48.6,"y":440},{"x":48.7,"y":400},{"x":48.8,"y":390},{"x":48.9,"y":370},{"x":49.0,"y":390},{"x":49.1,"y":360},{"x":49.2,"y":380},{"x":49.3,"y":370},{"x":49.4,"y":400},{"x":49.5,"y":390},{"x":49.6,"y":410},{"x":49.7,"y":390},{"x":49.8,"y":420},{"x":49.9,"y":410},{"x":50.0,"y":440},{"x":50.1,"y":500},{"x":50.2,"y":543},{"x":50.25,"y":500},{"x":50.3,"y":430},{"x":50.4,"y":390},{"x":50.5,"y":370},{"x":50.6,"y":390},{"x":50.7,"y":360},{"x":50.8,"y":380},{"x":50.9,"y":350},{"x":51.0,"y":375},{"x":51.1,"y":355},{"x":51.2,"y":380},{"x":51.3,"y":360},{"x":51.4,"y":385},{"x":51.5,"y":350},{"x":51.6,"y":370},{"x":51.7,"y":345},{"x":51.8,"y":360},{"x":51.9,"y":330},{"x":52.0,"y":308},{"x":52.1,"y":340},{"x":52.2,"y":326},{"x":52.3,"y":350},{"x":52.4,"y":335},{"x":52.5,"y":350}],
"lab": [{"t":"Q","x":20.84,"y":2988},{"t":"Q","x":25.61,"y":3457},{"t":"P","x":28.19,"y":3457},{"t":"CA","x":30.27,"y":2175},{"t":"♦","x":31.34,"y":2029},{"t":"M","x":33.38,"y":2178},{"t":"CA","x":35.59,"y":2012},{"t":"Q","x":36.61,"y":2170},{"t":"Q","x":39.54,"y":1972},{"t":"Q","x":45.74,"y":1944},{"t":"Q","x":50.03,"y":2074},
{"t":"P","x":27.73,"y":1765},{"t":"Q","x":20.77,"y":1530},{"t":"CA","x":30.81,"y":1718},{"t":"♦","x":31.34,"y":1532},{"t":"M","x":33.38,"y":1622},{"t":"CA","x":35.59,"y":1577},{"t":"Q","x":36.61,"y":1504},{"t":"Q","x":39.5,"y":1532},{"t":"Q","x":45.71,"y":1510},{"t":"Q","x":49.99,"y":1589},
{"t":"Q","x":21.37,"y":1210},{"t":"P","x":27.52,"y":1351},{"t":"CA","x":30.81,"y":1239},{"t":"♦","x":31.34,"y":1051},{"t":"M","x":33.38,"y":1154},{"t":"CA","x":35.52,"y":1069},{"t":"Q","x":36.61,"y":1107},{"t":"Q","x":39.5,"y":1032},{"t":"Q","x":45.71,"y":1107},{"t":"Q","x":49.55,"y":1177},
{"t":"Q","x":21.42,"y":778},{"t":"P","x":27.66,"y":919},{"t":"CA","x":30.22,"y":797},{"t":"M","x":33.38,"y":749},{"t":"CA","x":35.52,"y":627},{"t":"Q","x":36.61,"y":674},{"t":"Q","x":39.5,"y":674},{"t":"Q","x":45.71,"y":599},{"t":"Q","x":49.99,"y":646}],
"ast": [{"t":"*","x":27.31,"y":2793},{"t":"*","x":24.9,"y":2095},{"t":"*","x":28.78,"y":1945},{"t":"*","x":27.27,"y":1145},{"t":"*","x":24.88,"y":929},{"t":"*","x":27.69,"y":1004},{"t":"*","x":24.88,"y":552}],
"leg": [{"t":"Q:","x":39.921,"y":3372,"w":"n"},{"t":"Quartz","x":41.488,"y":3372,"w":"b"},{"t":", SiO₂, ICDD 00-033-1161","x":45.32,"y":3372,"w":"n"},
{"t":"P:","x":39.921,"y":3174,"w":"n"},{"t":"Aluminum phosphate","x":41.279,"y":3174,"w":"b"},{"t":", AlPO₄, ICDD 01-076-0233","x":52.879,"y":3174,"w":"n"},
{"t":"CA:","x":39.921,"y":2977,"w":"n"},{"t":"Calcium aluminum oxide","x":42.323,"y":2977,"w":"b"},{"t":", CaAl₂O₄, ICDD 01-070-0134","x":55.837,"y":2977,"w":"n"},
{"t":"M:","x":39.921,"y":2785,"w":"n"},{"t":"Mayenite","x":41.696,"y":2785,"w":"b"},{"t":", Ca₁₂Al₁₄O₃₃, ICDD 00-009-0413","x":46.711,"y":2785,"w":"n"},
{"t":"*:","x":39.921,"y":2588,"w":"b"},{"t":"Calcium aluminum hydrate","x":41.208,"y":2588,"w":"b"},{"t":", CaAl₂O₄·10H₂O, ICDD 00-011-0204","x":56.042,"y":2588,"w":"n"},
{"t":":","x":40.046,"y":2396,"w":"b"},{"t":"Gehlenite","x":40.706,"y":2396,"w":"b"},{"t":", Ca₂Al(AlSiO₇), ICDD 01-079-1726","x":45.859,"y":2396,"w":"n"}],
"smp": [{"t":"Metal free","x":54.0,"y":2040,"c":"MF"},{"t":"Zn","x":54.0,"y":1447,"c":"Zn"},{"t":"Cu","x":54.0,"y":968,"c":"Cu"},{"t":"Pb","x":54.0,"y":477,"c":"Pb"}],
"panel": [{"t":"b","x":67.25,"y":1622}],
"ttl": [{"t":"2-Theta-Scale","x":45.65,"y":3671}]
},
"layer": [
{"data": {"name": "mf"}, "mark": {"type": "line", "color": "#000000", "strokeWidth": 1.2, "clip": true},
 "encoding": {
  "x": {"field": "x", "type": "quantitative", "scale": {"domain": [19.07, 52.58], "nice": false, "zero": false}, "axis": {"orient": "bottom", "values": [20,21,22,23,24,25,26,27,28,29,30,31,32,33,34,35,36,37,38,39,40,41,42,43,44,45,46,47,48,49,50,51,52], "tickSize": 6, "labels": false, "title": null, "domain": true}},
  "y": {"field": "y", "type": "quantitative", "scale": {"domain": [0, 3630], "nice": false, "zero": false}, "axis": {"orient": "left", "values": [0,100,200,300,400,500,600,700,800,900,1000,1100,1200,1300,1400,1500,1600,1700,1800,1900,2000,2100,2200,2300,2400,2500,2600,2700,2800,2900,3000,3100,3200,3300,3400,3500,3600], "tickSize": 7, "labels": false, "title": null, "domain": true}}
 }},
{"data": {"name": "zn"}, "mark": {"type": "line", "color": "#2db52d", "strokeWidth": 1.2, "clip": true},
 "encoding": {
  "x": {"field": "x", "type": "quantitative", "scale": {"domain": [19.07, 52.58], "nice": false, "zero": false}, "axis": {"orient": "bottom", "values": [25,35,45], "tickSize": 9, "labels": false, "title": null, "domain": false}},
  "y": {"field": "y", "type": "quantitative", "scale": {"domain": [0, 3630], "nice": false, "zero": false}, "axis": {"orient": "left", "values": [0,500,1000,1500,2000,2500,3000,3500], "format": "d", "tickSize": 12, "labelFont": "Liberation Serif", "labelFontSize": 21, "labelPadding": 20, "domain": false, "title": "Intensity (arbitrary counts)", "titleFont": "Liberation Serif", "titleFontSize": 30, "titleFontWeight": "bold", "titleAngle": 270, "titleX": -98, "titleY": 203, "titleAlign": "center", "titleBaseline": "alphabetic"}}
 }},
{"data": {"name": "cu"}, "mark": {"type": "line", "color": "#0000ff", "strokeWidth": 1.2, "clip": true},
 "encoding": {
  "x": {"field": "x", "type": "quantitative", "scale": {"domain": [19.07, 52.58], "nice": false, "zero": false}, "axis": {"orient": "bottom", "values": [20,30,40,50], "format": "d", "tickSize": 12, "labelFont": "Liberation Serif", "labelFontSize": 21, "labelPadding": 30, "labelBaseline": "alphabetic", "domain": false, "title": "2-Theta-Scale", "titleFont": "Liberation Serif", "titleFontSize": 30, "titleFontWeight": "bold", "titleX": 636, "titleY": 97, "titleAlign": "center", "titleBaseline": "alphabetic"}},
  "y": {"field": "y", "type": "quantitative", "scale": {"domain": [0, 3630], "nice": false, "zero": false}, "axis": null}
 }},
{"data": {"name": "pb"}, "mark": {"type": "line", "color": "#ff0000", "strokeWidth": 1.2, "clip": true},
 "encoding": {
  "x": {"field": "x", "type": "quantitative", "scale": {"domain": [19.07, 52.58], "nice": false, "zero": false}, "axis": null},
  "y": {"field": "y", "type": "quantitative", "scale": {"domain": [0, 3630], "nice": false, "zero": false}, "axis": null}
 }},
{"data": {"name": "lab"}, "mark": {"type": "text", "font": "Liberation Serif", "fontSize": 21, "color": "#000000", "align": "center", "baseline": "middle"},
 "encoding": {
  "x": {"field": "x", "type": "quantitative", "scale": {"domain": [19.07, 52.58], "nice": false, "zero": false}, "axis": null},
  "y": {"field": "y", "type": "quantitative", "scale": {"domain": [0, 3630], "nice": false, "zero": false}, "axis": null},
  "text": {"field": "t"}
 }},
{"data": {"name": "ast"}, "mark": {"type": "text", "font": "Liberation Serif", "fontSize": 25, "fontWeight": "bold", "color": "#000000", "align": "center", "baseline": "alphabetic"},
 "encoding": {
  "x": {"field": "x", "type": "quantitative", "scale": {"domain": [19.07, 52.58], "nice": false, "zero": false}, "axis": null},
  "y": {"field": "y", "type": "quantitative", "scale": {"domain": [0, 3630], "nice": false, "zero": false}, "axis": null},
  "text": {"field": "t"}
 }},
{"data": {"name": "leg"}, "transform": [{"filter": "datum.w == 'n'"}], "mark": {"type": "text", "font": "Liberation Serif", "fontSize": 30, "color": "#000000", "align": "left", "baseline": "alphabetic"},
 "encoding": {
  "x": {"field": "x", "type": "quantitative", "scale": {"domain": [19.07, 52.58], "nice": false, "zero": false}, "axis": null},
  "y": {"field": "y", "type": "quantitative", "scale": {"domain": [0, 3630], "nice": false, "zero": false}, "axis": null},
  "text": {"field": "t"}
 }},
{"data": {"name": "leg"}, "transform": [{"filter": "datum.w == 'b'"}], "mark": {"type": "text", "font": "Liberation Serif", "fontSize": 30, "fontWeight": "bold", "color": "#000000", "align": "left", "baseline": "alphabetic"},
 "encoding": {
  "x": {"field": "x", "type": "quantitative", "scale": {"domain": [19.07, 52.58], "nice": false, "zero": false}, "axis": null},
  "y": {"field": "y", "type": "quantitative", "scale": {"domain": [0, 3630], "nice": false, "zero": false}, "axis": null},
  "text": {"field": "t"}
 }},
{"data": {"name": "smp"}, "mark": {"type": "text", "font": "Liberation Serif", "fontSize": 30, "fontWeight": "bold", "align": "left", "baseline": "alphabetic"},
 "encoding": {
  "x": {"field": "x", "type": "quantitative", "scale": {"domain": [19.07, 52.58], "nice": false, "zero": false}, "axis": null},
  "y": {"field": "y", "type": "quantitative", "scale": {"domain": [0, 3630], "nice": false, "zero": false}, "axis": null},
  "color": {"field": "c", "type": "nominal", "scale": {"domain": ["MF", "Zn", "Cu", "Pb"], "range": ["#000000", "#1f9a1f", "#1a3fcf", "#ff0000"]}, "legend": null},
  "text": {"field": "t"}
 }},
{"data": {"name": "panel"}, "mark": {"type": "text", "font": "Liberation Sans", "fontSize": 54, "fontWeight": "bold", "color": "#000000", "align": "left", "baseline": "alphabetic"},
 "encoding": {
  "x": {"field": "x", "type": "quantitative", "scale": {"domain": [19.07, 52.58], "nice": false, "zero": false}, "axis": null},
  "y": {"field": "y", "type": "quantitative", "scale": {"domain": [0, 3630], "nice": false, "zero": false}, "axis": null},
  "text": {"field": "t"}
 }},
{"data": {"name": "ttl"}, "mark": {"type": "text", "font": "Liberation Serif", "fontSize": 30, "fontWeight": "bold", "color": "#000000", "align": "center", "baseline": "alphabetic"},
 "encoding": {
  "x": {"field": "x", "type": "quantitative", "scale": {"domain": [19.07, 52.58], "nice": false, "zero": false}, "axis": null},
  "y": {"field": "y", "type": "quantitative", "scale": {"domain": [0, 3630], "nice": false, "zero": false}, "axis": null},
  "text": {"field": "t"}
 }}
]
}
